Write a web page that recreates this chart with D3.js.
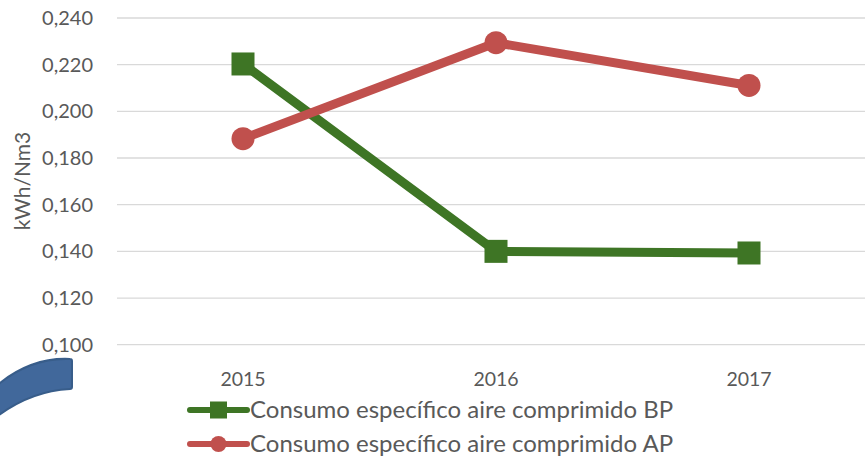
<!DOCTYPE html>
<meta charset="utf-8">
<style>
body { margin: 0; background: #fff; }
text { font-family: Lato, "Open Sans", sans-serif; fill: #595959; }
.grid line { stroke: #d9d9d9; stroke-width: 1.3; }
</style>
<body>
<div id="chart"></div>
</body>
<script src="https://d3js.org/d3.v7.min.js"></script>
<script>
var years = ["2015", "2016", "2017"];
var bpValues = [0.2203, 0.1400, 0.1393];
var apValues = [0.1883, 0.2294, 0.2111];
var yTicks = [0.100, 0.120, 0.140, 0.160, 0.180, 0.200, 0.220, 0.240];
var seriesNames = ["Consumo específico aire comprimido BP", "Consumo específico aire comprimido AP"];

var width = 865,
	height = 461;

var green = "#3e7525",
	red = "#c0504d";

var svg = d3.select("#chart").append("svg")
	.attr("width", width)
	.attr("height", height);

var x = d3.scaleBand()
	.domain(years)
	.range([116.5, 875.5]);

var y = d3.scaleLinear()
	.domain([0.1, 0.24])
	.range([344.7, 18]);

function cx(d) { return x(d) + x.bandwidth() / 2; }

// gridlines
svg.append("g").attr("class", "grid")
	.selectAll("line")
	.data(yTicks)
	.enter().append("line")
	.attr("x1", 117)
	.attr("x2", width)
	.attr("y1", function(d) { return y(d); })
	.attr("y2", function(d) { return y(d); });

// y tick labels
svg.append("g")
	.selectAll("text")
	.data(yTicks)
	.enter().append("text")
	.attr("x", 93)
	.attr("y", function(d) { return y(d); })
	.attr("dy", "0.35em")
	.attr("text-anchor", "end")
	.style("font-size", "20px")
	.text(function(d) { return d3.format(".3f")(d).replace(".", ","); });

// y axis title
svg.append("text")
	.attr("transform", "translate(23,181) rotate(-90)")
	.attr("dy", "0.35em")
	.attr("text-anchor", "middle")
	.style("font-size", "21px")
	.text("kWh/Nm3");

// x labels
svg.append("g")
	.selectAll("text")
	.data(years)
	.enter().append("text")
	.attr("x", cx)
	.attr("y", 379)
	.attr("dy", "0.35em")
	.attr("text-anchor", "middle")
	.style("font-size", "19.5px")
	.text(function(d) { return d; });

// decorative blue shape at bottom-left
var p = d3.path();
p.moveTo(70, 359);
p.quadraticCurveTo(30, 357, -5, 387);
p.lineTo(-5, 418);
p.quadraticCurveTo(30, 391, 70, 389);
p.quadraticCurveTo(72, 389, 72, 387);
p.lineTo(72, 361);
p.quadraticCurveTo(72, 359, 70, 359);
p.closePath();
svg.append("path")
	.attr("d", p.toString())
	.attr("fill", "#41689b")
	.attr("stroke", "#385d8a")
	.attr("stroke-width", 2)
	.attr("stroke-linejoin", "round");

var line = d3.line()
	.x(function(d, i) { return cx(years[i]); })
	.y(function(d) { return y(d); });

// BP series
svg.append("path")
	.datum(bpValues)
	.attr("d", line)
	.attr("fill", "none")
	.attr("stroke", green)
	.attr("stroke-width", 9)
	.attr("stroke-linejoin", "round");

svg.append("g")
	.selectAll("rect")
	.data(bpValues)
	.enter().append("rect")
	.attr("x", function(d, i) { return cx(years[i]) - 11.5; })
	.attr("y", function(d) { return y(d) - 11.5; })
	.attr("width", 23)
	.attr("height", 23)
	.attr("fill", green);

// AP series
svg.append("path")
	.datum(apValues)
	.attr("d", line)
	.attr("fill", "none")
	.attr("stroke", red)
	.attr("stroke-width", 9)
	.attr("stroke-linejoin", "round");

svg.append("g")
	.selectAll("circle")
	.data(apValues)
	.enter().append("circle")
	.attr("cx", function(d, i) { return cx(years[i]); })
	.attr("cy", function(d) { return y(d); })
	.attr("r", 11.5)
	.attr("fill", red);

// legend
var legend = svg.append("g");
var ly = [410, 444];
seriesNames.forEach(function(name, i) {
	var c = i == 0 ? green : red;
	legend.append("line")
		.attr("x1", 190).attr("x2", 247)
		.attr("y1", ly[i]).attr("y2", ly[i])
		.attr("stroke", c)
		.attr("stroke-width", 6)
		.attr("stroke-linecap", "round");
	if (i == 0) {
		legend.append("rect")
			.attr("x", 210).attr("y", ly[i] - 8.5)
			.attr("width", 17).attr("height", 17)
			.attr("fill", c);
	} else {
		legend.append("circle")
			.attr("cx", 218.5).attr("cy", ly[i])
			.attr("r", 8)
			.attr("fill", c);
	}
	legend.append("text")
		.attr("x", 250)
		.attr("y", ly[i])
		.attr("dy", "0.35em")
		.style("font-size", "24px")
		.text(name);
});
</script>
